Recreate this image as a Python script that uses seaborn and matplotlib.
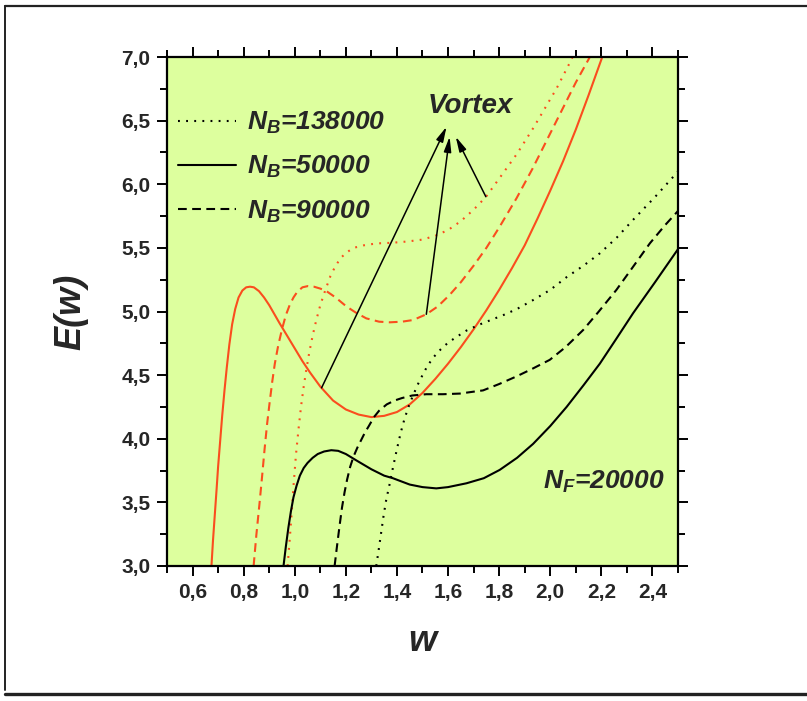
import numpy as np
import pandas as pd
import seaborn as sns
import matplotlib
matplotlib.use("Agg")
import matplotlib.pyplot as plt
from matplotlib import ticker
from matplotlib.lines import Line2D

# Energy curves E(w) for N_F = 20000; "vortex" branch in orange, ground branch in black
w_vortex_50k = [0.674, 0.68, 0.687, 0.694, 0.70, 0.708, 0.716, 0.725, 0.734, 0.744, 0.755, 0.767,
                0.78, 0.795, 0.81, 0.825, 0.84, 0.86, 0.88, 0.90, 0.92, 0.94, 0.97, 1.00, 1.03,
                1.06, 1.10, 1.15, 1.20, 1.25, 1.30, 1.35, 1.40, 1.45, 1.50, 1.55, 1.60, 1.65,
                1.70, 1.75, 1.80, 1.85, 1.90, 1.95, 2.00, 2.05, 2.10, 2.15, 2.20, 2.25]
E_vortex_50k = [3.00, 3.20, 3.40, 3.60, 3.78, 3.98, 4.18, 4.38, 4.56, 4.74, 4.90, 5.02,
                5.11, 5.165, 5.19, 5.195, 5.19, 5.16, 5.11, 5.05, 4.98, 4.91, 4.81, 4.71, 4.61,
                4.52, 4.41, 4.30, 4.23, 4.19, 4.17, 4.18, 4.21, 4.27, 4.36, 4.47, 4.59, 4.72,
                4.86, 5.01, 5.17, 5.34, 5.52, 5.73, 5.95, 6.18, 6.43, 6.70, 6.98, 7.28]

w_vortex_90k = [0.839, 0.85, 0.862, 0.872, 0.882, 0.892, 0.902, 0.912, 0.922, 0.935, 0.95,
                0.965, 0.98, 0.995, 1.01, 1.03, 1.052, 1.075, 1.10, 1.124, 1.16, 1.202, 1.24,
                1.28, 1.33, 1.372, 1.42, 1.463, 1.515, 1.56, 1.606, 1.65, 1.70, 1.75, 1.80,
                1.868, 1.93, 2.00, 2.05, 2.10, 2.155, 2.20]
E_vortex_90k = [3.00, 3.25, 3.49, 3.70, 3.92, 4.12, 4.29, 4.45, 4.59, 4.73, 4.86,
                4.97, 5.05, 5.11, 5.155, 5.19, 5.20, 5.195, 5.18, 5.16, 5.11, 5.04, 4.99,
                4.946, 4.92, 4.915, 4.92, 4.933, 4.978, 5.04, 5.13, 5.23, 5.36, 5.50, 5.66,
                5.89, 6.12, 6.40, 6.60, 6.80, 7.00, 7.17]

w_vortex_138k = [0.972, 0.98, 0.988, 0.996, 1.005, 1.015, 1.025, 1.035, 1.045, 1.057, 1.07,
                 1.084, 1.10, 1.12, 1.14, 1.16, 1.18, 1.20, 1.23, 1.27, 1.32, 1.38, 1.44,
                 1.50, 1.55, 1.60, 1.65, 1.70, 1.748, 1.802, 1.87, 1.933, 1.98, 2.024,
                 2.083, 2.12]
E_vortex_138k = [3.00, 3.20, 3.42, 3.65, 3.88, 4.08, 4.26, 4.41, 4.54, 4.68, 4.81,
                 4.93, 5.05, 5.17, 5.28, 5.36, 5.42, 5.46, 5.50, 5.52, 5.535, 5.54, 5.55,
                 5.565, 5.595, 5.64, 5.71, 5.80, 5.90, 6.05, 6.24, 6.44, 6.60, 6.75,
                 6.98, 7.15]

w_ground_50k = [0.956, 0.965, 0.975, 0.985, 0.995, 1.007, 1.02, 1.035, 1.05, 1.07, 1.09, 1.115,
                1.143, 1.17, 1.20, 1.241, 1.30, 1.35, 1.384, 1.45, 1.50, 1.554, 1.60, 1.672,
                1.74, 1.802, 1.87, 1.933, 2.00, 2.064, 2.13, 2.194, 2.26, 2.324, 2.41, 2.50]
E_ground_50k = [3.00, 3.15, 3.30, 3.43, 3.54, 3.63, 3.71, 3.77, 3.81, 3.85, 3.88, 3.90,
                3.91, 3.905, 3.88, 3.83, 3.76, 3.71, 3.69, 3.64, 3.62, 3.61, 3.62, 3.65,
                3.69, 3.755, 3.85, 3.96, 4.10, 4.25, 4.42, 4.59, 4.79, 4.986, 5.23, 5.49]

w_ground_90k = [1.156, 1.165, 1.175, 1.185, 1.195, 1.205, 1.217, 1.23, 1.245, 1.26, 1.275,
                1.29, 1.31, 1.33, 1.36, 1.39, 1.42, 1.46, 1.515, 1.58, 1.646, 1.70, 1.737,
                1.80, 1.868, 1.93, 1.998, 2.06, 2.129, 2.19, 2.259, 2.32, 2.39, 2.45, 2.50]
E_ground_90k = [3.00, 3.15, 3.31, 3.46, 3.58, 3.68, 3.78, 3.86, 3.93, 3.99, 4.05,
                4.10, 4.17, 4.22, 4.27, 4.30, 4.32, 4.34, 4.35, 4.35, 4.355, 4.37, 4.38,
                4.43, 4.49, 4.55, 4.62, 4.72, 4.855, 5.00, 5.17, 5.34, 5.536, 5.68, 5.79]

w_ground_138k = [1.319, 1.328, 1.338, 1.348, 1.358, 1.372, 1.385, 1.40, 1.415, 1.43, 1.447,
                 1.463, 1.48, 1.50, 1.52, 1.545, 1.57, 1.60, 1.633, 1.672, 1.72, 1.77, 1.82,
                 1.87, 1.933, 2.00, 2.064, 2.13, 2.194, 2.26, 2.324, 2.41, 2.50]
E_ground_138k = [3.00, 3.12, 3.26, 3.40, 3.52, 3.65, 3.78, 3.92, 4.05, 4.16, 4.26,
                 4.34, 4.42, 4.50, 4.575, 4.645, 4.70, 4.755, 4.80, 4.85, 4.895, 4.935, 4.975,
                 5.02, 5.09, 5.17, 5.27, 5.36, 5.457, 5.58, 5.72, 5.90, 6.10]

legend_labels = ["$N_B$=138000", "$N_B$=50000", "$N_B$=90000"]

# arrows from the vortex branches up to the "Vortex" label: (tail, head)
arrow_tails = [(1.105, 4.40), (1.515, 4.978), (1.748, 5.902)]
arrow_heads = [(1.594, 6.452), (1.606, 6.374), (1.630, 6.374)]

frames = []
for state, nb, w, e in [
    ("vortex", "50000", w_vortex_50k, E_vortex_50k),
    ("vortex", "90000", w_vortex_90k, E_vortex_90k),
    ("vortex", "138000", w_vortex_138k, E_vortex_138k),
    ("ground", "50000", w_ground_50k, E_ground_50k),
    ("ground", "90000", w_ground_90k, E_ground_90k),
    ("ground", "138000", w_ground_138k, E_ground_138k),
]:
    frames.append(pd.DataFrame({"w": w, "E": e, "state": state, "NB": nb}))
df = pd.concat(frames, ignore_index=True)

sns.set_style("ticks")
plt.rcParams["font.family"] = ["Liberation Sans", "DejaVu Sans"]
plt.rcParams["mathtext.fontset"] = "custom"
plt.rcParams["mathtext.it"] = "Liberation Sans:italic:bold"
plt.rcParams["mathtext.rm"] = "Liberation Sans:italic:bold"
plt.rcParams["mathtext.bf"] = "Liberation Sans:italic:bold"

ORANGE = "#fa4d1e"
BG = "#ddff9e"

fig = plt.figure(figsize=(8.07, 7.01), dpi=100)
ax = fig.add_axes([167 / 807, (701 - 566) / 701, 511 / 807, 509 / 701])
ax.set_facecolor(BG)

dash_map = {"50000": "", "90000": (4.2, 2.6), "138000": (0.9, 3.0)}
sns.lineplot(data=df, x="w", y="E", hue="state", style="NB",
             palette={"vortex": ORANGE, "ground": "black"},
             dashes=dash_map, sort=False, estimator=None, legend=False,
             linewidth=1.5, ax=ax)

ax.set_xlim(0.5, 2.5)
ax.set_ylim(3.0, 7.0)
ax.xaxis.set_major_locator(ticker.MultipleLocator(0.2))
ax.xaxis.set_minor_locator(ticker.MultipleLocator(0.1))
ax.yaxis.set_major_locator(ticker.MultipleLocator(0.5))
ax.yaxis.set_minor_locator(ticker.MultipleLocator(0.25))
comma = ticker.FuncFormatter(lambda v, p: f"{v:.1f}".replace(".", ","))
ax.xaxis.set_major_formatter(comma)
ax.yaxis.set_major_formatter(comma)
ax.tick_params(which="both", direction="out", top=True, right=True,
               labeltop=False, labelright=False, width=1.4, color="black")
ax.tick_params(which="major", length=7, pad=5)
ax.tick_params(which="minor", length=5)
for lab in ax.get_xticklabels() + ax.get_yticklabels():
    lab.set_fontsize(15)
    lab.set_fontweight("bold")
for sp in ax.spines.values():
    sp.set_visible(True)
    sp.set_linewidth(1.6)
    sp.set_color("black")

ax.set_xlabel("w", fontsize=26, fontweight="bold", fontstyle="italic", labelpad=16)
ax.set_ylabel("E(w)", fontsize=26, fontweight="bold", fontstyle="italic", labelpad=24)

# legend with the three line styles
handles = [Line2D([], [], color="black", lw=1.5, dashes=dash_map["138000"]),
           Line2D([], [], color="black", lw=1.5),
           Line2D([], [], color="black", lw=1.5, dashes=dash_map["90000"])]
leg = ax.legend(handles, legend_labels, loc="upper left", bbox_to_anchor=(0.0, 0.917),
                frameon=False, handlelength=2.2, handletextpad=0.45, labelspacing=0.69,
                borderaxespad=0.0, prop={"family": "Liberation Sans", "weight": "bold",
                                         "style": "italic", "size": 19})

ax.text(1.52, 6.56, "Vortex", fontsize=20, fontweight="bold", fontstyle="italic",
        ha="left", va="baseline")
ax.text(1.971, 3.605, "$N_F$=20000", fontsize=19, fontweight="bold", fontstyle="italic",
        ha="left", va="baseline")

for tail, head in zip(arrow_tails, arrow_heads):
    ax.annotate("", xy=head, xytext=tail,
                arrowprops=dict(arrowstyle="-|>,head_length=0.9,head_width=0.22",
                                color="black", lw=1.1, mutation_scale=10,
                                shrinkA=0, shrinkB=0))

# outer page frame
W, H = 807, 701
def px(x, y):
    return x / W, 1 - y / H
fig.add_artist(Line2D([px(5, 0)[0], 1.0], [px(0, 6)[1]] * 2, color="#222222", lw=1.6,
                      transform=fig.transFigure))
fig.add_artist(Line2D([px(5, 0)[0]] * 2, [px(0, 6)[1], px(0, 690)[1]], color="#222222",
                      lw=1.4, transform=fig.transFigure))
fig.add_artist(Line2D([px(5, 0)[0], 1.0], [px(0, 694)[1]] * 2, color="#222222", lw=2.4,
                      transform=fig.transFigure))

fig.savefig("out.png", dpi=100, facecolor="white")
